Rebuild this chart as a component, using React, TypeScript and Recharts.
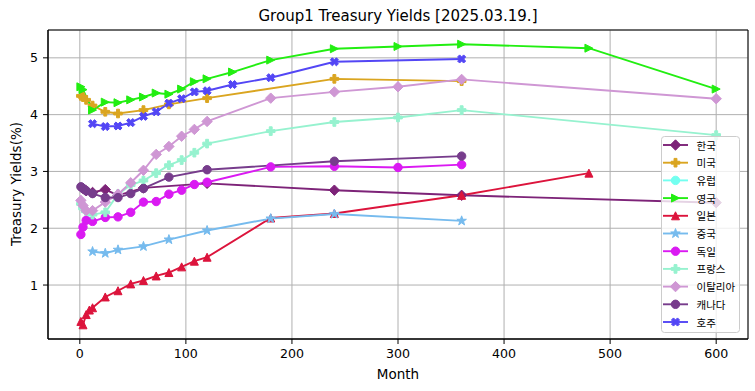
import React from 'react';
import { LineChart, Line, XAxis, YAxis, CartesianGrid, ReferenceArea } from 'recharts';

const xTicks = [0, 100, 200, 300, 400, 500, 600];
const yTicks = [1, 2, 3, 4, 5];

const koreaMonths = [3, 6, 12, 24, 36, 60, 120, 240, 360, 600];
const koreaYields = [2.7, 2.66, 2.63, 2.68, 2.58, 2.71, 2.79, 2.67, 2.58, 2.45];

const usMonths = [1, 3, 6, 12, 24, 36, 60, 84, 120, 240, 360];
const usYields = [4.33, 4.31, 4.26, 4.16, 4.05, 4.02, 4.08, 4.18, 4.29, 4.63, 4.59];

const euMonths: number[] = [];
const euYields: number[] = [];

const ukMonths = [1, 3, 12, 24, 36, 48, 60, 72, 84, 96, 108, 120, 144, 180, 240, 300, 360, 480, 600];
const ukYields = [4.49, 4.44, 4.08, 4.22, 4.21, 4.26, 4.31, 4.38, 4.36, 4.45, 4.58, 4.63, 4.75, 4.96, 5.16, 5.2, 5.24, 5.17, 4.45];

const japanMonths = [1, 3, 6, 9, 12, 24, 36, 48, 60, 72, 84, 96, 108, 120, 180, 240, 360, 480];
const japanYields = [0.36, 0.3, 0.48, 0.56, 0.6, 0.79, 0.9, 1.02, 1.08, 1.16, 1.22, 1.32, 1.42, 1.49, 2.18, 2.26, 2.58, 2.97];

const chinaMonths = [12, 24, 36, 60, 84, 120, 180, 240, 360];
const chinaYields = [1.59, 1.56, 1.62, 1.68, 1.8, 1.96, 2.17, 2.25, 2.13];

const germanyMonths = [1, 3, 6, 12, 24, 36, 48, 60, 72, 84, 96, 108, 120, 180, 240, 300, 360];
const germanyYields = [1.89, 2.02, 2.14, 2.12, 2.19, 2.2, 2.28, 2.46, 2.47, 2.6, 2.67, 2.77, 2.81, 3.08, 3.09, 3.07, 3.12];

const franceMonths = [1, 3, 6, 12, 24, 36, 48, 60, 72, 84, 96, 108, 120, 180, 240, 300, 360, 600];
const franceYields = [2.43, 2.35, 2.3, 2.24, 2.28, 2.6, 2.76, 2.84, 2.97, 3.11, 3.2, 3.33, 3.49, 3.71, 3.87, 3.95, 4.08, 3.64];

const italyMonths = [1, 3, 6, 12, 24, 36, 48, 60, 72, 84, 96, 108, 120, 180, 240, 300, 360, 600];
const italyYields = [2.49, 2.4, 2.31, 2.31, 2.46, 2.6, 2.8, 3.02, 3.3, 3.44, 3.62, 3.74, 3.88, 4.29, 4.4, 4.49, 4.62, 4.28];

const canadaMonths = [1, 3, 6, 12, 24, 36, 48, 60, 84, 120, 240, 360];
const canadaYields = [2.73, 2.7, 2.66, 2.61, 2.54, 2.54, 2.61, 2.7, 2.9, 3.03, 3.18, 3.27];

const australiaMonths = [12, 24, 36, 48, 60, 72, 84, 96, 108, 120, 144, 180, 240, 360];
const australiaYields = [3.84, 3.79, 3.8, 3.86, 3.97, 4.05, 4.2, 4.28, 4.4, 4.42, 4.53, 4.65, 4.93, 4.98];

type Shape = 'diamond' | 'plus' | 'circle' | 'triRight' | 'triUp' | 'star' | 'xFilled';

const seriesDefs: { name: string; color: string; shape: Shape; months: number[]; yields: number[] }[] = [
  { name: '한국', color: '#7D2378', shape: 'diamond', months: koreaMonths, yields: koreaYields },
  { name: '미국', color: '#DAA520', shape: 'plus', months: usMonths, yields: usYields },
  { name: '유럽', color: '#73FFF0', shape: 'circle', months: euMonths, yields: euYields },
  { name: '영국', color: '#22EE11', shape: 'triRight', months: ukMonths, yields: ukYields },
  { name: '일본', color: '#DC143C', shape: 'triUp', months: japanMonths, yields: japanYields },
  { name: '중국', color: '#76BBEE', shape: 'star', months: chinaMonths, yields: chinaYields },
  { name: '독일', color: '#DA1AF2', shape: 'circle', months: germanyMonths, yields: germanyYields },
  { name: '프랑스', color: '#96F2CF', shape: 'plus', months: franceMonths, yields: franceYields },
  { name: '이탈리아', color: '#CF97D4', shape: 'diamond', months: italyMonths, yields: italyYields },
  { name: '캐나다', color: '#773C8C', shape: 'circle', months: canadaMonths, yields: canadaYields },
  { name: '호주', color: '#5346F5', shape: 'xFilled', months: australiaMonths, yields: australiaYields },
];

const FONT = '"DejaVu Sans", sans-serif';

function pts(arr: number[][], cx: number, cy: number) {
  return arr.map(([x, y]) => `${cx + x},${cy + y}`).join(' ');
}

function marker(shape: Shape, cx: number, cy: number, color: string, key?: string | number) {
  const common = { fill: color, stroke: color, strokeWidth: 1 };
  switch (shape) {
    case 'circle':
      return <circle key={key} cx={cx} cy={cy} r={4.2} {...common} />;
    case 'diamond': {
      const d = 5.2;
      return <polygon key={key} points={pts([[0, -d], [d, 0], [0, d], [-d, 0]], cx, cy)} {...common} />;
    }
    case 'triUp': {
      const h = 4;
      return <polygon key={key} points={pts([[0, -h], [h, h], [-h, h]], cx, cy)} {...common} />;
    }
    case 'triRight': {
      const h = 4;
      return <polygon key={key} points={pts([[h, 0], [-h, -h], [-h, h]], cx, cy)} {...common} />;
    }
    case 'plus': {
      const h = 4.3, t = 1.45;
      return (
        <polygon
          key={key}
          points={pts([[-t, -h], [t, -h], [t, -t], [h, -t], [h, t], [t, t], [t, h], [-t, h], [-t, t], [-h, t], [-h, -t], [-t, -t]], cx, cy)}
          {...common}
        />
      );
    }
    case 'xFilled': {
      const h = 4.3, t = 1.45;
      const base = [[-t, -h], [t, -h], [t, -t], [h, -t], [h, t], [t, t], [t, h], [-t, h], [-t, t], [-h, t], [-h, -t], [-t, -t]];
      const c = Math.SQRT1_2;
      const rot = base.map(([x, y]) => [x * c - y * c, x * c + y * c]);
      return <polygon key={key} points={pts(rot, cx, cy)} {...common} />;
    }
    case 'star': {
      const R = 5, r = 2;
      const p: number[][] = [];
      for (let i = 0; i < 10; i++) {
        const a = -Math.PI / 2 + (i * Math.PI) / 5;
        const rr = i % 2 === 0 ? R : r;
        p.push([rr * Math.cos(a), rr * Math.sin(a)]);
      }
      return <polygon key={key} points={pts(p, cx, cy)} {...common} />;
    }
  }
  return null;
}

function LegendBox() {
  const rowH = 17.7;
  return (
    <svg width={80} height={198} style={{ position: 'absolute', left: 661, top: 136 }}>
      <rect x={0.5} y={0.5} width={78} height={196} rx={3} fill="#ffffff" fillOpacity={0.8} stroke="#cccccc" />
      {seriesDefs.map((s, i) => {
        const y = 9 + i * rowH;
        return (
          <g key={s.name}>
            <line x1={2} x2={27} y1={y} y2={y} stroke={s.color} strokeWidth={1.9} />
            {marker(s.shape, 14.5, y, s.color)}
            <text x={35.5} y={y} dominantBaseline="central" fontSize={10.5} fontFamily='"Noto Sans CJK KR", sans-serif' fill="#000">
              {s.name}
            </text>
          </g>
        );
      })}
    </svg>
  );
}

export default function App() {
  return (
    <div style={{ position: 'absolute', left: 0, top: 0, width: 755, height: 391, background: '#fff' }}>
      <div
        style={{
          position: 'absolute',
          left: 48,
          width: 700,
          top: 9,
          textAlign: 'center',
          fontFamily: FONT,
          fontSize: 15,
          lineHeight: '15px',
          color: '#000',
        }}
      >
        Group1 Treasury Yields [2025.03.19.]
      </div>
      <LineChart width={755} height={391} margin={{ top: 30, right: 7, left: 0, bottom: 0 }} style={{ position: 'absolute', left: 0, top: 0 }}>
        <CartesianGrid stroke="#b0b0b0" strokeWidth={1} />
        <XAxis
          type="number"
          dataKey="x"
          domain={[-30, 630]}
          ticks={xTicks}
          allowDataOverflow
          height={52}
          stroke="#000"
          tickSize={5}
          tickMargin={5}
          tick={{ fill: '#000', fontSize: 12.6, fontFamily: FONT }}
          label={{
            content: () => (
              <text x={398} y={379} textAnchor="middle" fontSize={13.5} fontFamily={FONT} fill="#000">
                Month
              </text>
            ),
          }}
        />
        <YAxis
          type="number"
          domain={[0.05, 5.49]}
          ticks={yTicks}
          allowDataOverflow
          width={48}
          stroke="#000"
          tickSize={5}
          tickMargin={5}
          tick={{ fill: '#000', fontSize: 12.6, fontFamily: FONT }}
          label={{
            content: () => (
              <text x={16} y={184} transform="rotate(-90 16 184)" textAnchor="middle" dominantBaseline="central" fontSize={13.5} fontFamily={FONT} fill="#000">
                Treasury Yields(%)
              </text>
            ),
          }}
        />
        {seriesDefs
          .filter((s) => s.months.length > 0)
          .map((s) => (
            <Line
              key={s.name}
              name={s.name}
              data={s.months.map((m, i) => ({ x: m, y: s.yields[i] }))}
              dataKey="y"
              stroke={s.color}
              strokeWidth={1.9}
              isAnimationActive={false}
              dot={(p: any) => marker(s.shape, p.cx, p.cy, s.color, `${s.name}-${p.index}`) as any}
              activeDot={false}
            />
          ))}
        <ReferenceArea x1={-30} x2={630} y1={0.05} y2={5.49} fill="none" stroke="#000" strokeWidth={1} fillOpacity={0} />
      </LineChart>
      <LegendBox />
    </div>
  );
}
